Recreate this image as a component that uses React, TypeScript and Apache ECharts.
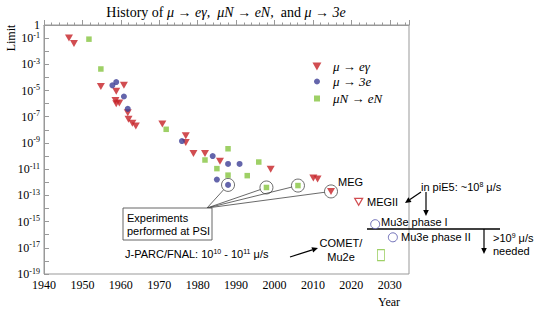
import React, { useEffect, useRef } from 'react';
import * as echarts from 'echarts';

// μ → eγ
const megYears = [1946.5, 1947.8, 1954.8, 1960.8, 1958.8, 1958.6, 1959.6, 1958.8, 1961.8, 1962.0, 1963.0, 1963.9, 1970.8, 1976.9, 1976.9, 1978.9, 1981.9, 1985.8, 1999.0, 2010.1, 2011.2, 2014.7];
const megLimits = [1.0e-1, 3.9e-2, 2.0e-5, 2.5e-5, 8.9e-6, 1.7e-6, 1.1e-6, 1.0e-6, 2.0e-7, 6.3e-8, 3.2e-8, 2.0e-8, 2.8e-8, 3.5e-9, 1.1e-9, 1.6e-10, 1.6e-10, 4.0e-11, 1.0e-11, 2.1e-12, 1.8e-12, 2.0e-13];
// μ → 3e
const m3eYears = [1958.8, 1957.8, 1960.8, 1961.8, 1975.9, 1983.9, 1987.9, 1990.9, 1985.0, 1987.9];
const m3eLimits = [4.4e-5, 2.5e-5, 3.5e-6, 4.0e-7, 1.4e-9, 1.0e-10, 2.5e-11, 2.5e-11, 1.6e-12, 6.3e-13];
// μN → eN
const mneYears = [1951.7, 1954.8, 1971.8, 1981.9, 1987.9, 1985.0, 1987.9, 1992.9, 1995.9, 1997.9, 2006.1];
const mneLimits = [8.3e-2, 4.4e-4, 1.1e-8, 5.0e-11, 3.6e-10, 1.1e-11, 3.5e-12, 3.2e-12, 3.5e-11, 4.0e-13, 5.6e-13];
// experiments performed at PSI (circled)
const psiYears = [1987.9, 1997.9, 2006.1, 2014.7];
const psiLimits = [6.3e-13, 4.0e-13, 5.6e-13, 2.0e-13];
// future sensitivities
const megIIYears = [2021.9];
const megIILimits = [3.2e-14];
const mu3eYears = [2026.2, 2030.8];
const mu3eLimits = [6.3e-16, 6.3e-17];
const cometYears = [2027.7];
const cometLimits = [2.8e-18];

const legendNames = ['μ → eγ', 'μ → 3e', 'μN → eN'];

const SERIF = '"Liberation Serif", "Times New Roman", serif';
const SANS = '"Liberation Sans", Arial, sans-serif';
const RED = '#c62026';
const BLUE = '#3d3f96';
const GREEN = '#86c440';

const pts = (xs: number[], ys: number[]) => xs.map((x, i) => [x, Math.log10(ys[i])]);

function arrow(x1: number, y1: number, x2: number, y2: number) {
  const dx = x2 - x1, dy = y2 - y1;
  const len = Math.sqrt(dx * dx + dy * dy);
  const ux = dx / len, uy = dy / len;
  const hl = 6, hw = 2.8;
  const bx = x2 - ux * hl, by = y2 - uy * hl;
  return [
    { type: 'line', shape: { x1, y1, x2: bx, y2: by }, style: { stroke: '#000', lineWidth: 1.2 }, silent: true },
    {
      type: 'polygon',
      shape: { points: [[x2, y2], [bx - uy * hw, by + ux * hw], [bx + uy * hw, by - ux * hw]] },
      style: { fill: '#000' },
      silent: true,
    },
  ];
}

const supRich = (size: number, font: string) => ({
  a: { fontSize: size, fontFamily: font, lineHeight: size + 2, fill: '#000' },
  s: { fontSize: Math.round(size * 0.65), fontFamily: font, lineHeight: Math.round(size * 0.65), verticalAlign: 'top', fill: '#000' },
});

function sansText(x: number, y: number, text: string, align = 'left') {
  return {
    type: 'text',
    x,
    y,
    silent: true,
    style: { text, fontSize: 11, fontFamily: SANS, fill: '#000', align, verticalAlign: 'middle' },
  };
}

export default function App() {
  const ref = useRef<HTMLDivElement>(null);
  useEffect(() => {
    if (!ref.current) return;
    const chart = echarts.init(ref.current, undefined, { renderer: 'svg' });
    const legendText = (pad: number) => ({
      fontFamily: SERIF,
      fontStyle: 'italic',
      fontSize: 13,
      color: '#000',
      padding: [0, 0, 0, pad],
    });
    chart.setOption({
      animation: false,
      backgroundColor: '#fff',
      grid: { left: 44, top: 25, right: 129, bottom: 38, show: true, borderColor: '#999', borderWidth: 1 },
      legend: [
        {
          orient: 'vertical', left: 307.5, top: 55, itemWidth: 9, itemHeight: 8,
          selectedMode: false, textStyle: legendText(6.5),
          data: [{ name: legendNames[0], icon: 'path://M0 0L10 0L5 9Z' }],
        },
        {
          orient: 'vertical', left: 309, top: 70, itemWidth: 6, itemHeight: 6,
          selectedMode: false, textStyle: legendText(8), data: [legendNames[1]],
        },
        {
          orient: 'vertical', left: 309, top: 87, itemWidth: 6, itemHeight: 6,
          selectedMode: false, textStyle: legendText(8), data: [legendNames[2]],
        },
      ],
      xAxis: {
        type: 'value',
        min: 1940,
        max: 2035,
        interval: 10,
        axisLine: { show: true, lineStyle: { color: '#999' } },
        axisTick: { show: true, inside: true, length: 5, lineStyle: { color: '#999' } },
        minorTick: { show: true, splitNumber: 5, length: 2.5, lineStyle: { color: '#999' } },
        splitLine: { show: false },
        axisLabel: {
          margin: 5,
          fontFamily: SERIF,
          fontSize: 12,
          color: '#000',
          formatter: (v: number) => (v % 10 === 0 ? String(v) : ''),
        },
      },
      yAxis: {
        type: 'value',
        min: -19,
        max: 0,
        interval: 1,
        axisLine: { show: true, lineStyle: { color: '#999' } },
        axisTick: { show: true, inside: true, length: 5, lineStyle: { color: '#999' } },
        splitLine: { show: false },
        axisLabel: {
          margin: 4,
          color: '#000',
          formatter: (v: number) => {
            if (v === 0) return '{a|1}';
            if (Math.abs(v) % 2 === 1) return '{a|10}{s|' + v + '}';
            return '';
          },
          rich: {
            a: { fontSize: 12, fontFamily: SERIF, lineHeight: 14, color: '#000' },
            s: { fontSize: 8, fontFamily: SERIF, lineHeight: 8, verticalAlign: 'top', color: '#000' },
          },
        },
      },
      series: [
        {
          name: legendNames[0],
          type: 'scatter',
          symbol: 'triangle',
          symbolRotate: 180,
          symbolSize: [8, 7],
          itemStyle: { color: RED },
          data: pts(megYears, megLimits),
          z: 3,
        },
        {
          name: legendNames[1],
          type: 'scatter',
          symbol: 'circle',
          symbolSize: 6,
          itemStyle: { color: BLUE },
          data: pts(m3eYears, m3eLimits),
          z: 3,
        },
        {
          name: legendNames[2],
          type: 'scatter',
          symbol: 'rect',
          symbolSize: 5.5,
          itemStyle: { color: GREEN },
          data: pts(mneYears, mneLimits),
          z: 3,
        },
        {
          name: 'PSI',
          type: 'scatter',
          symbol: 'circle',
          symbolSize: 13,
          itemStyle: { color: 'rgba(0,0,0,0)', borderColor: '#333', borderWidth: 0.9 },
          data: pts(psiYears, psiLimits),
          z: 2,
          silent: true,
        },
        {
          name: 'MEGII',
          type: 'scatter',
          symbol: 'triangle',
          symbolRotate: 180,
          symbolSize: [8, 7],
          itemStyle: { color: '#fff', borderColor: RED, borderWidth: 1.2 },
          data: pts(megIIYears, megIILimits),
        },
        {
          name: 'Mu3e',
          type: 'scatter',
          symbol: 'circle',
          symbolSize: 9,
          itemStyle: { color: '#fff', borderColor: '#5050a8', borderWidth: 1 },
          data: pts(mu3eYears, mu3eLimits),
        },
        {
          name: 'COMET/Mu2e',
          type: 'scatter',
          symbol: 'rect',
          symbolSize: [7, 11],
          itemStyle: { color: '#fff', borderColor: GREEN, borderWidth: 1 },
          data: pts(cometYears, cometLimits),
        },
      ],
    });

    // connector lines from the PSI box to circled points
    const boxCorner = [207, 208];
    const connectors = psiYears.map((yr, i) => {
      const p = chart.convertToPixel({ gridIndex: 0 }, [yr, Math.log10(psiLimits[i])]) as number[];
      const dx = p[0] - boxCorner[0], dy = p[1] - boxCorner[1];
      const len = Math.sqrt(dx * dx + dy * dy);
      const r = 6.5;
      return {
        type: 'line',
        silent: true,
        shape: { x1: boxCorner[0], y1: boxCorner[1], x2: p[0] - (dx / len) * r, y2: p[1] - (dy / len) * r },
        style: { stroke: '#444', lineWidth: 0.8 },
      };
    });

    const graphics: any[] = [
      {
        type: 'text',
        x: 226,
        y: 12,
        silent: true,
        style: {
          text: '{n|History of }{i|μ → eγ,  μN → eN,}{n|  and }{i|μ → 3e}',
          align: 'center',
          verticalAlign: 'middle',
          rich: {
            n: { fontSize: 14, fontFamily: SERIF, fill: '#000' },
            i: { fontSize: 14, fontFamily: SERIF, fontStyle: 'italic', fill: '#000' },
          },
        },
      },
      {
        type: 'text',
        x: 11,
        y: 38,
        rotation: Math.PI / 2,
        silent: true,
        style: { text: 'Limit', fontSize: 12, fontFamily: SERIF, fill: '#000', align: 'center', verticalAlign: 'middle' },
      },
      {
        type: 'text',
        x: 389,
        y: 302,
        silent: true,
        style: { text: 'Year', fontSize: 12, fontFamily: SERIF, fill: '#000', align: 'center', verticalAlign: 'middle' },
      },
      ...connectors,
      {
        type: 'rect',
        silent: true,
        shape: { x: 123, y: 208, width: 89, height: 32 },
        style: { fill: '#fff', stroke: '#555', lineWidth: 0.9 },
      },
      sansText(127, 218, 'Experiments'),
      sansText(127, 231, 'performed at PSI'),
      sansText(338, 182, 'MEG'),
      sansText(367, 202, 'MEGII'),
      {
        type: 'text',
        x: 421,
        y: 187,
        silent: true,
        style: { text: '{a|in piE5: ~10}{s|8}{a| μ/s}', align: 'left', verticalAlign: 'middle', rich: supRich(11, SANS) },
      },
      ...arrow(421, 192, 405, 203),
      ...arrow(426, 192, 426, 216),
      sansText(381, 222, 'Mu3e phase I'),
      sansText(401, 237, 'Mu3e phase II'),
      {
        type: 'line',
        silent: true,
        shape: { x1: 367, y1: 229, x2: 500, y2: 229 },
        style: { stroke: '#000', lineWidth: 1.5 },
      },
      ...arrow(484, 229, 484, 254),
      {
        type: 'text',
        x: 493,
        y: 238,
        silent: true,
        style: { text: '{a|>10}{s|9}{a| μ/s}', align: 'left', verticalAlign: 'middle', rich: supRich(11, SANS) },
      },
      sansText(493, 251, 'needed'),
      sansText(341, 243, 'COMET/', 'center'),
      sansText(341, 257, 'Mu2e', 'center'),
      {
        type: 'text',
        x: 125,
        y: 254,
        silent: true,
        style: {
          text: '{a|J-PARC/FNAL: 10}{s|10}{a| - 10}{s|11}{a| μ/s}',
          align: 'left',
          verticalAlign: 'middle',
          rich: supRich(11, SANS),
        },
      },
      ...arrow(290, 257, 318, 248),
    ];
    chart.setOption({ graphic: graphics });

    return () => chart.dispose();
  }, []);
  return <div ref={ref} style={{ position: 'fixed', left: 0, top: 0, width: 538, height: 312 }} />;
}
